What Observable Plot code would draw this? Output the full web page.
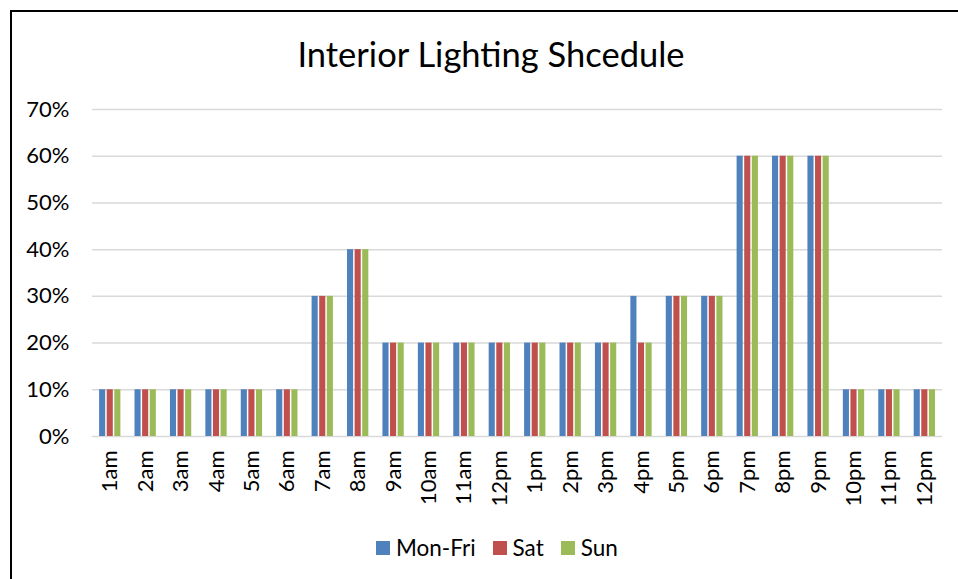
<!DOCTYPE html>
<html>
<head>
<meta charset="utf-8">
<script src="https://cdn.jsdelivr.net/npm/d3@7"></script>
<script src="https://cdn.jsdelivr.net/npm/@observablehq/plot@0.6"></script>
<style>
  html, body { margin: 0; padding: 0; background: #fff; }
  #wrap { position: relative; width: 958px; height: 579px; overflow: hidden; font-family: Lato, "Open Sans", sans-serif; color: #000; }
  #border { position: absolute; left: 10px; top: 10px; width: 1000px; height: 1000px; border-left: 2px solid #000; border-top: 2px solid #000; }
  #title { position: absolute; left: 0; top: 31px; width: 982px; text-align: center; font-size: 34.5px; line-height: 46px; }
  #chart { position: absolute; left: 0; top: 80px; }
  #legend { position: absolute; left: 376px; top: 536px; display: flex; align-items: center; font-size: 22.5px; line-height: 24px; }
  .sw { width: 14px; height: 14px; display: inline-block; margin-right: 6px; }
  .item { display: flex; align-items: center; margin-right: 17px; }
</style>
</head>
<body>
<div id="wrap">
  <div id="border"></div>
  <div id="title">Interior Lighting Shcedule</div>
  <div id="chart"></div>
  <div id="legend"></div>
</div>
<script>
const hours = ["1am","2am","3am","4am","5am","6am","7am","8am","9am","10am","11am","12pm",
               "1pm","2pm","3pm","4pm","5pm","6pm","7pm","8pm","9pm","10pm","11pm","12pm "];
const monFri = [0.1,0.1,0.1,0.1,0.1,0.1,0.3,0.4,0.2,0.2,0.2,0.2,0.2,0.2,0.2,0.3,0.3,0.3,0.6,0.6,0.6,0.1,0.1,0.1];
const sat    = [0.1,0.1,0.1,0.1,0.1,0.1,0.3,0.4,0.2,0.2,0.2,0.2,0.2,0.2,0.2,0.2,0.3,0.3,0.6,0.6,0.6,0.1,0.1,0.1];
const sun    = [0.1,0.1,0.1,0.1,0.1,0.1,0.3,0.4,0.2,0.2,0.2,0.2,0.2,0.2,0.2,0.2,0.3,0.3,0.6,0.6,0.6,0.1,0.1,0.1];
const seriesNames = ["Mon-Fri","Sat","Sun"];
const seriesColors = ["#4F81BD","#C0504D","#9BBB59"];
const yTicks = [0,0.1,0.2,0.3,0.4,0.5,0.6,0.7];

const seriesValues = [monFri, sat, sun];
const data = [];
seriesValues.forEach((vals, s) => vals.forEach((v, i) => data.push({hour: hours[i], series: seriesNames[s], value: v})));

const W = 958, H = 455, ML = 92, MR = 16, MT = 29, MB = 99;
const band = (W - ML - MR) / hours.length;
const groupStart = 7.1, barStep = 7.6, barW = 6.1;

const bars = seriesNames.map((name, s) => Plot.barY(data.filter(d => d.series === name), {
  x: "hour", y: "value", fill: seriesColors[s],
  insetLeft: groupStart + s * barStep,
  insetRight: band - (groupStart + s * barStep + barW)
}));

const chart = Plot.plot({
  width: W, height: H,
  marginLeft: ML, marginRight: MR, marginTop: MT, marginBottom: MB,
  style: {fontFamily: "Lato, 'Open Sans', sans-serif", fontSize: "22px", color: "#000", background: "transparent"},
  x: {domain: hours, padding: 0, round: false, tickRotate: -90, tickSize: 0, tickPadding: 14, label: null,
      tickFormat: d => d.trim()},
  y: {domain: [0, 0.7], ticks: yTicks, tickFormat: d3.format(".0%"), tickSize: 0, tickPadding: 23, label: null},
  marks: [
    Plot.ruleY(yTicks, {stroke: "#D9D9D9", strokeWidth: 1.5}),
    ...bars
  ]
});
chart.querySelectorAll("text").forEach(t => { t.style.fontSize = "22px"; });
document.getElementById("chart").appendChild(chart);

const legend = document.getElementById("legend");
seriesNames.forEach((n, i) => {
  const it = document.createElement("div");
  it.className = "item";
  it.innerHTML = `<span class="sw" style="background:${seriesColors[i]}"></span><span>${n}</span>`;
  legend.appendChild(it);
});
</script>
</body>
</html>
